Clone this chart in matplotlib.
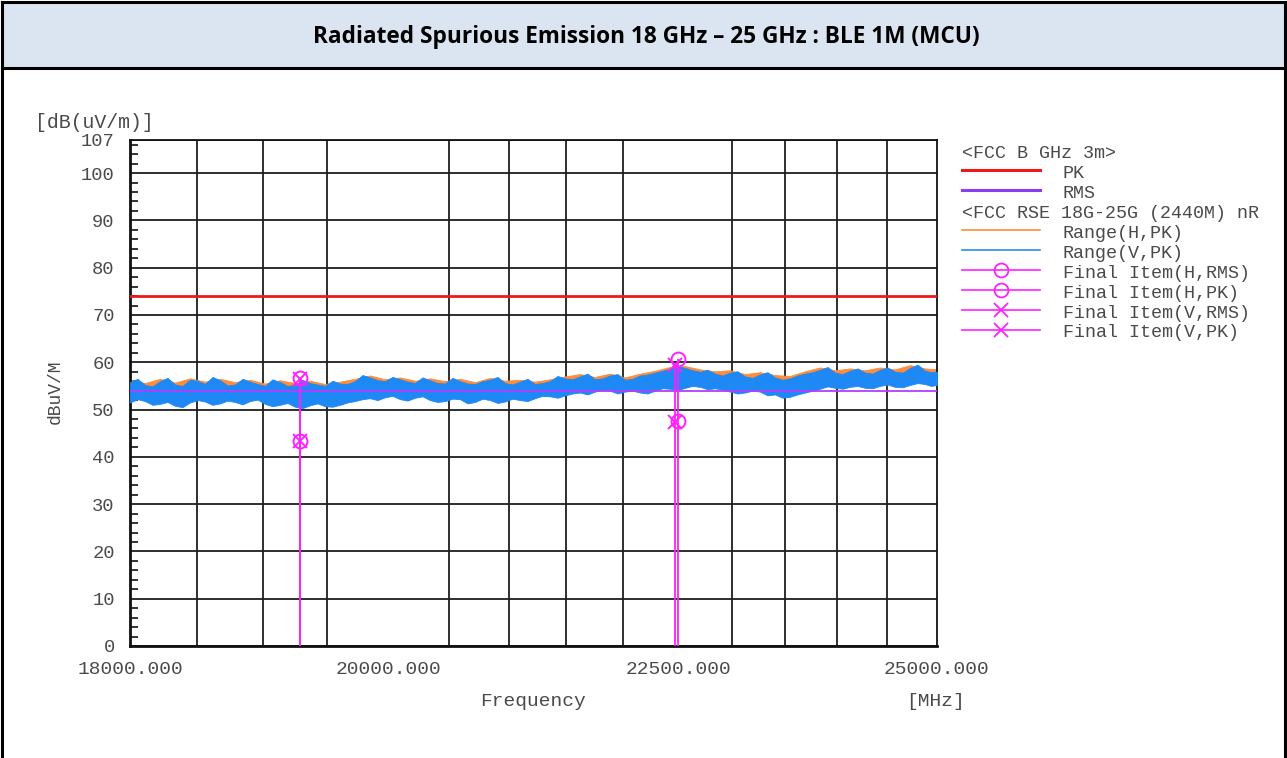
import matplotlib
matplotlib.use('Agg')
import matplotlib.pyplot as plt
from matplotlib.lines import Line2D
from matplotlib.patches import Rectangle
from matplotlib.ticker import FixedLocator, FixedFormatter

# ---------------- data ----------------
title = "Radiated Spurious Emission 18 GHz \u2013 25 GHz : BLE 1M (MCU)"

# Range(V,PK) envelope (fine sampling)
freq_v_mhz = [18000, 18055, 18110, 18166, 18221, 18277, 18333, 18389, 18445, 18502,
              18558, 18615, 18672, 18729, 18786, 18844, 18901, 18959, 19017, 19075,
              19133, 19192, 19250, 19309, 19368, 19428, 19487, 19547, 19606, 19666,
              19726, 19787, 19847, 19908, 19969, 20030, 20091, 20153, 20214, 20276,
              20338, 20401, 20463, 20526, 20588, 20651, 20714, 20778, 20841, 20905,
              20968, 21033, 21097, 21162, 21226, 21291, 21356, 21422, 21487, 21553,
              21618, 21685, 21751, 21818, 21884, 21951, 22018, 22086, 22153, 22221,
              22289, 22357, 22425, 22494, 22563, 22632, 22701, 22771, 22840, 22910,
              22980, 23050, 23120, 23191, 23262, 23333, 23404, 23476, 23548, 23620,
              23692, 23765, 23837, 23910, 23983, 24057, 24130, 24204, 24278, 24352,
              24426, 24501, 24576, 24652, 24727, 24803, 24878, 24939, 25000]

range_v_upper = [55.8, 56.5, 55.2, 54.9, 56.0, 56.7, 55.3, 55.0, 56.3, 56.1,
                 55.4, 56.9, 56.2, 55.1, 55.3, 56.5, 55.9, 55.4, 55.0, 56.4,
                 55.8, 55.0, 55.2, 56.3, 55.6, 55.3, 55.0, 56.1, 55.5, 55.4,
                 56.0, 57.3, 56.8, 56.2, 56.0, 56.9, 56.4, 55.9, 55.6, 56.8,
                 56.2, 55.6, 55.5, 56.7, 56.0, 55.5, 55.4, 56.0, 56.3, 56.9,
                 55.6, 55.3, 55.9, 56.5, 55.4, 55.6, 56.0, 57.1, 56.6, 56.4,
                 57.0, 57.6, 56.4, 56.6, 57.2, 57.5, 56.3, 56.5, 57.2, 57.4,
                 57.8, 58.2, 58.6, 59.2, 58.8, 58.3, 58.0, 58.4, 57.6, 57.2,
                 57.8, 58.1, 57.0, 56.7, 57.4, 57.9, 56.8, 56.3, 56.6, 57.2,
                 57.6, 57.9, 58.4, 59.0, 57.8, 57.5, 58.2, 58.7, 57.8, 57.6,
                 58.4, 58.9, 58.0, 57.8, 58.8, 59.5, 58.2, 57.9, 58.0]

range_v_lower = [51.5, 52.2, 51.8, 51.0, 51.2, 51.6, 50.8, 50.5, 51.5, 52.0,
                 51.7, 51.0, 51.3, 51.9, 51.6, 51.1, 51.8, 52.1, 51.2, 50.7,
                 51.0, 51.4, 50.6, 50.3, 50.9, 51.3, 50.7, 50.6, 51.0, 51.5,
                 51.8, 52.2, 52.4, 52.0, 52.6, 52.9, 52.2, 51.9, 52.5, 52.8,
                 52.0, 51.6, 51.8, 52.3, 52.2, 51.3, 51.6, 52.3, 52.0, 51.4,
                 51.7, 52.3, 52.0, 51.8, 52.4, 52.9, 52.8, 52.5, 53.0, 53.4,
                 53.6, 53.2, 53.8, 54.2, 54.0, 53.4, 53.8, 54.0, 53.6, 53.4,
                 54.0, 54.5, 54.4, 54.1, 54.6, 55.0, 54.8, 54.3, 54.5, 54.2,
                 53.8, 53.4, 53.6, 54.0, 53.8, 53.0, 53.2, 52.5, 52.7, 53.2,
                 53.6, 54.0, 54.4, 54.9, 54.6, 54.4, 54.8, 55.0, 54.6, 54.5,
                 55.0, 55.3, 54.8, 54.7, 55.2, 55.6, 55.4, 55.0, 55.2]

# Range(H,PK) envelope (coarser sampling)
freq_h_mhz = [18000, 18110, 18221, 18333, 18445, 18558, 18672, 18786, 18901, 19017,
              19133, 19250, 19368, 19487, 19606, 19726, 19847, 19969, 20091, 20214,
              20338, 20463, 20588, 20714, 20841, 20968, 21097, 21226, 21356, 21487,
              21618, 21751, 21884, 22018, 22153, 22289, 22425, 22563, 22701, 22840,
              22980, 23120, 23262, 23404, 23548, 23692, 23837, 23983, 24130, 24278,
              24426, 24576, 24727, 24878, 25000]

range_h_upper = [56.3, 55.6, 56.5, 55.7, 56.6, 55.9, 56.5, 55.8, 56.3, 55.5,
                 56.2, 55.6, 56.1, 55.4, 55.9, 56.5, 57.2, 56.4, 56.8, 56.1,
                 56.6, 56.0, 56.5, 55.8, 56.7, 56.1, 56.3, 55.9, 56.4, 57.0,
                 57.5, 56.9, 57.6, 56.8, 57.6, 58.2, 59.0, 59.2, 58.5, 58.1,
                 58.3, 57.5, 57.9, 57.3, 57.1, 58.1, 58.9, 58.3, 58.7, 58.3,
                 58.9, 58.5, 59.4, 58.7, 58.5]

range_h_lower = [52.3, 52.6, 52.0, 51.6, 52.3, 52.5, 52.1, 52.4, 52.6, 52.0,
                 51.8, 51.4, 51.7, 51.5, 51.8, 52.6, 53.2, 53.4, 53.0, 53.3,
                 52.8, 52.6, 53.0, 52.4, 52.8, 52.5, 52.8, 53.2, 53.6, 53.8,
                 54.4, 54.6, 54.8, 54.6, 54.4, 54.8, 55.2, 55.4, 55.6, 55.3,
                 54.6, 54.4, 54.6, 54.0, 53.5, 54.4, 55.2, 55.4, 55.6, 55.4,
                 55.8, 55.6, 56.0, 56.2, 56.0]

limit_pk = 74.0
limit_rms = 54.0

final_h_freq = [19290, 22495]
final_h_pk = [56.6, 60.6]
final_h_rms = [43.4, 47.6]
final_v_freq = [19290, 22470]
final_v_pk = [56.4, 59.4]
final_v_rms = [43.3, 47.4]

x_tick_values = [18000, 20000, 22500, 25000]
x_tick_labels = ["18000.000", "20000.000", "22500.000", "25000.000"]
x_grid_values = [18500, 19000, 19500, 20000, 20500, 21000, 21500, 22000,
                 22500, 23000, 23500, 24000, 24500]
y_tick_values = [0, 10, 20, 30, 40, 50, 60, 70, 80, 90, 100, 107]
y_tick_labels = ["0", "10", "20", "30", "40", "50", "60", "70", "80", "90", "100", "107"]
y_minor_values = [v for v in range(2, 107, 2) if v % 10 != 0]

legend_rows = [
    ("<FCC B GHz 3m>", None, None),
    ("PK", "#f01818", None),
    ("RMS", "#8a3cf0", None),
    ("<FCC RSE 18G-25G (2440M) nR", None, None),
    ("Range(H,PK)", "#ff8c3a", None),
    ("Range(V,PK)", "#2a8cf0", None),
    ("Final Item(H,RMS)", "#ff20ff", "o"),
    ("Final Item(H,PK)", "#ff20ff", "o"),
    ("Final Item(V,RMS)", "#ff20ff", "x"),
    ("Final Item(V,PK)", "#ff20ff", "x"),
]

# ---------------- fonts ----------------
title_font = ["Open Sans", "DejaVu Sans"]
mono = ["Liberation Mono", "DejaVu Sans Mono"]
txt_col = "#4a4a4a"

W, H = 1287, 758
fig = plt.figure(figsize=(W / 100, H / 100), dpi=100)
fig.patch.set_facecolor("white")

def fx(px):
    return px / W

def fy(py):
    return 1 - py / H

# header
fig.add_artist(Rectangle((fx(2), fy(68)), fx(1283), 66 / H, transform=fig.transFigure,
                         facecolor="#dbe5f1", edgecolor="none", zorder=0))
for (x0, y0, x1, y1) in [(2, 2, 1285, 2), (2, 68, 1285, 68), (2, 2, 2, 758), (1285, 2, 1285, 758)]:
    fig.add_artist(Line2D([fx(x0), fx(x1)], [fy(y0), fy(y1)], transform=fig.transFigure,
                          color="black", lw=2.2, zorder=1))
fig.text(fx(646), fy(37), title, ha="center", va="center", fontsize=16.3,
         fontweight="bold", family=title_font, color="black")

# axes
ax = fig.add_axes([fx(130), fy(646), fx(807), 506 / H])
ax.set_xscale("log")
ax.set_xlim(18000, 25000)
ax.set_ylim(0, 107)

ax.xaxis.set_major_locator(FixedLocator(x_tick_values))
ax.xaxis.set_major_formatter(FixedFormatter(x_tick_labels))
ax.xaxis.set_minor_locator(FixedLocator(x_grid_values))
ax.xaxis.set_minor_formatter(FixedFormatter([""] * len(x_grid_values)))
ax.yaxis.set_major_locator(FixedLocator(y_tick_values))
ax.yaxis.set_major_formatter(FixedFormatter(y_tick_labels))
ax.yaxis.set_minor_locator(FixedLocator(y_minor_values))

ax.tick_params(axis="x", which="both", length=0, pad=11, labelsize=14, labelcolor=txt_col)
ax.tick_params(axis="y", which="major", length=0, pad=11, labelsize=13.5, labelcolor=txt_col)
ax.tick_params(axis="y", which="minor", direction="in", length=6, width=1.4, color="#333333")
for lab in ax.get_xticklabels() + ax.get_yticklabels():
    lab.set_family(mono)

ax.grid(True, axis="x", which="minor", color="#1e1e1e", lw=1.3, zorder=0)
ax.grid(True, axis="y", which="major", color="#1e1e1e", lw=1.3, zorder=0)
ax.set_axisbelow(True)
for side, sp in ax.spines.items():
    sp.set_color("#111111")
    sp.set_linewidth(2.0 if side in ("left", "bottom") else 1.3)

# traces
ax.fill_between(freq_h_mhz, range_h_lower, range_h_upper, color="#ff8c3a", lw=0.6,
                edgecolor="#ff8c3a", zorder=2)
ax.fill_between(freq_v_mhz, range_v_lower, range_v_upper, color="#1e88f5", lw=0.6,
                edgecolor="#1e88f5", zorder=3)

# limits
ax.axhline(limit_pk, color="#f01818", lw=2.0, zorder=4)
ax.axhline(limit_rms, color="#b43cff", lw=1.3, zorder=4)

# final items
for f, pk in zip(final_h_freq, final_h_pk):
    ax.vlines(f, 0, pk, color="#ff20ff", lw=1.3, zorder=5)
for f, pk in zip(final_v_freq, final_v_pk):
    ax.vlines(f, 0, pk, color="#ff20ff", lw=1.3, zorder=5)
ax.plot(final_h_freq, final_h_pk, "o", ms=10, mfc="none", mec="#ff20ff", mew=1.4, zorder=6)
ax.plot(final_h_freq, final_h_rms, "o", ms=10, mfc="none", mec="#ff20ff", mew=1.4, zorder=6)
ax.plot(final_v_freq, final_v_pk, "x", ms=10, mec="#ff20ff", mew=1.4, zorder=6)
ax.plot(final_v_freq, final_v_rms, "x", ms=10, mec="#ff20ff", mew=1.4, zorder=6)

# axis texts
fig.text(fx(35), fy(123), "[dB(uV/m)]", ha="left", va="center", fontsize=14.3,
         family=mono, color=txt_col)
fig.text(fx(55), fy(392), "dBuV/M", ha="center", va="center", rotation=90, fontsize=13,
         family=mono, color=txt_col)
fig.text(fx(533), fy(701), "Frequency", ha="center", va="center", fontsize=14,
         family=mono, color=txt_col)
fig.text(fx(936), fy(701), "[MHz]", ha="center", va="center", fontsize=14,
         family=mono, color=txt_col)

# legend
row_y0 = 153
row_dy = 20
for i, (label, col, mk) in enumerate(legend_rows):
    y = row_y0 + i * row_dy
    if col is None:
        fig.text(fx(962), fy(y), label, ha="left", va="center", fontsize=13.2,
                 family=mono, color=txt_col)
    else:
        ly = y - 3
        lw = 2.2 if label in ("PK", "RMS") else 1.2
        fig.add_artist(Line2D([fx(962), fx(1040)], [fy(ly), fy(ly)], transform=fig.transFigure,
                              color=col, lw=lw))
        if mk is not None:
            fig.add_artist(Line2D([fx(1001)], [fy(ly)], transform=fig.transFigure,
                                  marker=mk, ms=10, mfc="none", mec=col, mew=1.3, color=col))
        fig.text(fx(1063), fy(y), label, ha="left", va="center", fontsize=13.2,
                 family=mono, color=txt_col)

fig.savefig("out.png", dpi=100, facecolor="white")
